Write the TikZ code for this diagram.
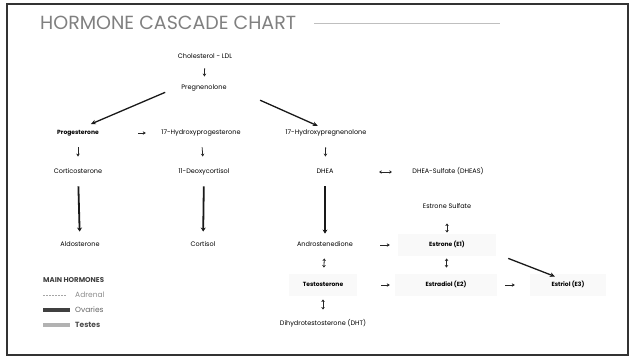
\documentclass[tikz,border=0pt]{standalone}
\usepackage{fontspec}
\setmainfont{Poppins}
\usetikzlibrary{arrows.meta,backgrounds,fit}
\tikzset{
chem/.style={font=\fontsize{6.5}{7.5}\selectfont, inner sep=0pt, text height=5pt, text depth=1.5pt, text=black, minimum width=#1},
chem/.default=40pt,
boldchem/.style={chem=#1, font=\fontsize{6}{7}\selectfont\bfseries},
boldchem/.default=40pt,
arrow/.style={line width=0.8pt, -{Stealth[length=3pt,width=3.5pt]}, black!85},
twoway/.style={line width=0.8pt, {Stealth[length=2.5pt,width=3.5pt]}-{Stealth[length=2.5pt,width=3.5pt]}, black!85},
longarrow/.style={line width=1.8pt, -{Stealth[length=4pt,width=5pt]}, black!90},
diag/.style={line width=1.3pt, -{Stealth[length=5pt,width=4.5pt]}, black!90},
swatch/.style={minimum width=27pt, minimum height=4.5pt, inner sep=0pt, anchor=west},
legend/.style={font=\fontsize{7.5}{9}\selectfont, anchor=west, inner sep=0pt},
hlbox/.style={fill=black!2.5, inner xsep=22pt, inner ysep=8pt}}

\begin{document}
\begin{tikzpicture}[x=1pt,y=-1pt]
\useasboundingbox (0,0) rectangle (634,360);
\draw [line width=2pt, black!80] (7,4) rectangle (628,355);

% title
\node (title) [anchor=west, inner sep=0pt, font=\fontsize{19}{22}\selectfont, text=black!50] at (40,23) {HORMONE CASCADE CHART};
\coordinate (rule) at (500,23);
\draw [black!25, line width=0.8pt] ([xshift=18pt]title.east) -- (rule);

% cascade (minimum widths follow the label widths)
\node (chol) [chem=65pt] at (205,57) {Cholesterol - LDL};
\node (preg) [chem=57pt] at (204,88) {Pregnenolone};
\node (prog) [boldchem=49pt] at (78,133) {Progesterone};
\node (ohp) [chem=103pt] at (201,133) {17-Hydroxyprogesterone};
\node (ohpreg) [chem=102pt] at (326,133) {17-Hydroxypregnenolone};
\node (cort) [chem=67pt] at (78,172) {Corticosterone};
\node (deoxy) [chem=68pt] at (204,172) {11-Deoxycortisol};
\node (dhea) [chem=25pt] at (325,172) {DHEA};
\node (dheas) [chem=97pt] at (448,172) {DHEA-Sulfate (DHEAS)};
\node (estsulf) [chem=65pt] at (447,207) {Estrone Sulfate};
\node (aldo) [chem=53pt] at (80,245) {Aldosterone};
\node (cortisol) [chem=34pt] at (203,245) {Cortisol};
\node (andro) [chem=70pt] at (325,245) {Androstenedione};
\node (estrone) [boldchem=53pt] at (447,245) {Estrone (E1)};
\node (testo) [boldchem=59pt] at (323,285) {Testosterone};
\node (estradiol) [boldchem=58pt] at (446,285) {Estradiol (E2)};
\node (estriol) [boldchem=47pt] at (568,285) {Estriol (E3)};
\node (dht) [chem=100pt] at (323,324) {Dihydrotestosterone (DHT)};

\begin{scope}[on background layer]
\node (estronebox) [hlbox, fit=(estrone)] {};
\node (estradiolbox) [hlbox, fit=(estradiol)] {};
\node (estriolbox) [hlbox, inner xsep=14pt, fit=(estriol)] {};
\node (testobox) [hlbox, inner xsep=4pt, fit=(testo)] {};
\end{scope}

\draw [arrow, shorten <=8pt, shorten >=8pt] (chol) -- (preg);
\draw [diag, shorten <=11pt, shorten >=14pt] (preg.west) -- (prog.north);
\draw [diag, shorten <=30pt, shorten >=9pt] (preg.east) -- (ohpreg.north);
\draw [arrow, shorten <=35.5pt, shorten >=3.5pt] (prog.east) -- (ohp.west);
\draw [arrow, shorten <=11pt, shorten >=12pt] (prog) -- (cort);
\draw [arrow, shorten <=11pt, shorten >=12pt] (ohp) -- (deoxy);
\draw [arrow, shorten <=11pt, shorten >=12pt] (ohpreg) -- (dhea);
\draw [twoway, shorten <=41.5pt, shorten >=7.5pt] (dhea.east) -- (dheas.west);
\draw [longarrow, shorten <=11pt, shorten >=10pt] (cort) -- (aldo);
\draw [longarrow, shorten <=11pt, shorten >=10pt] (deoxy) -- (cortisol);
\draw [longarrow, shorten <=11pt, shorten >=8pt] (dhea) -- (andro);
\draw [twoway, shorten <=13pt, shorten >=9pt] (estsulf) -- (estrone);
\draw [arrow, shorten <=20pt, shorten >=30.5pt] (andro.east) -- (estrone.west);
\draw [diag, shorten <=37pt, shorten >=14pt] (estrone.east) -- (estriol.north);
\draw [twoway, shorten <=10pt, shorten >=14pt] (andro) -- (testo);
\draw [twoway, shorten <=10pt, shorten >=14pt] (estrone) -- (estradiol);
\draw [arrow, shorten <=28.5pt, shorten >=27pt] (testo.east) -- (estradiol.west);
\draw [arrow, shorten <=30pt, shorten >=29.5pt] (estradiol.east) -- (estriol.west);
\draw [twoway, shorten <=11pt, shorten >=11pt] (testo) -- (dht);

% legend
\node (legtitle) [legend, font=\fontsize{7}{8}\selectfont\bfseries, text=black!75] at (43,280) {MAIN HORMONES};
\coordinate (adrsw) at (43,295);
\draw [black!35, dash pattern=on 2pt off 1pt, line width=0.6pt] (adrsw) -- ++(23,0);
\node (adrtext) [legend, text=black!45] at (75,295) {Adrenal};
\node (ovsw) [swatch, fill=black!75] at (43,310) {};
\node (ovtext) [legend, text=black!60] at (75,310) {Ovaries};
\node (tesw) [swatch, fill=black!30] at (43,325) {};
\node (testext) [legend, font=\fontsize{7.5}{9}\selectfont\bfseries, text=black!70] at (75,325) {Testes};
\end{tikzpicture}
\end{document}
